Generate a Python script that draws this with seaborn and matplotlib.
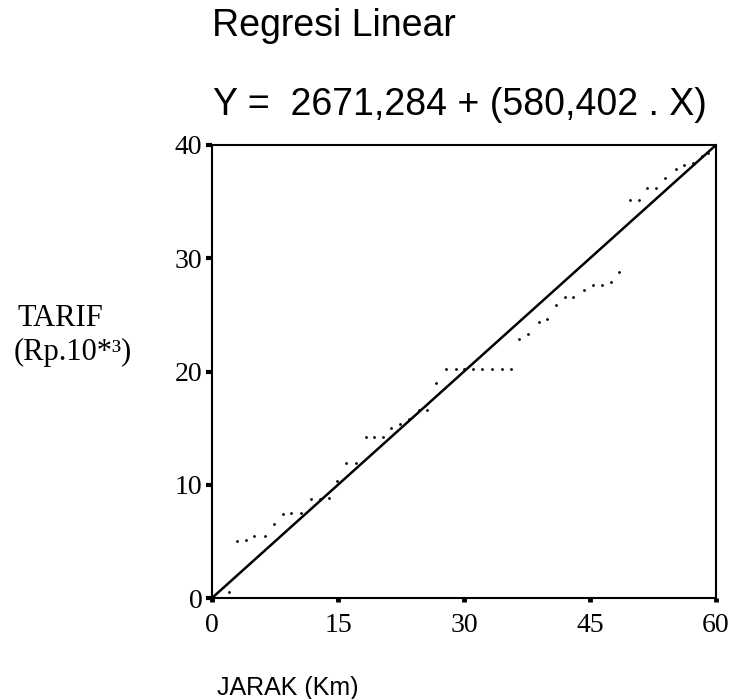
import pandas as pd
import matplotlib
matplotlib.use("Agg")
import matplotlib.pyplot as plt
import seaborn as sns

# data (JARAK in km, TARIF in Rp x 1000)
jarak = [2.0, 3.0, 4.0, 5.0, 6.3, 7.4, 8.4, 9.4, 10.6, 11.8, 12.9, 13.9, 14.9,
         16.0, 17.2, 18.3, 19.3, 20.3, 21.3, 22.4, 23.5, 24.6, 25.6, 26.7, 27.9,
         29.0, 30.0, 31.1, 32.2, 33.3, 34.5, 35.6, 36.6, 37.6, 38.9, 39.9, 40.9,
         42.0, 43.0, 44.3, 45.3, 46.4, 47.5, 48.5, 49.8, 50.8, 51.8, 52.9, 53.9,
         55.2, 56.2, 57.3, 58.3, 59.0]
tarif = [0.5, 5.0, 5.1, 5.5, 5.5, 6.5, 7.4, 7.5, 7.5, 8.7, 8.7, 8.8, 10.3,
         11.9, 11.9, 14.2, 14.2, 14.2, 15.0, 15.4, 15.8, 16.6, 16.6, 19.0, 20.2,
         20.2, 20.2, 20.2, 20.2, 20.2, 20.2, 20.2, 22.9, 23.3, 24.4, 24.6, 25.9,
         26.6, 26.6, 27.2, 27.6, 27.6, 27.9, 28.8, 35.1, 35.1, 36.2, 36.2, 37.1,
         37.9, 38.2, 38.4, 39.0, 39.3]

# regression line as drawn on the chart
line_x = [0, 60]
line_y = [0, 40]

x_ticks = [0, 15, 30, 45, 60]
y_ticks = [0, 10, 20, 30, 40]

df = pd.DataFrame({"jarak": jarak, "tarif": tarif})
df_line = pd.DataFrame({"jarak": line_x, "tarif": line_y})

sns.set_theme(style="white")
plt.rcParams["font.family"] = ["Liberation Serif", "DejaVu Serif"]
plt.rcParams["text.color"] = "black"

fig = plt.figure(figsize=(7.35, 6.99), dpi=100)
ax = fig.add_axes([212 / 735, 1 - 598 / 699, 504 / 735, 453 / 699])

sns.scatterplot(x="jarak", y="tarif", data=df, ax=ax, s=4, color="black",
                linewidth=0, zorder=3)
sns.lineplot(x="jarak", y="tarif", data=df_line, ax=ax, color="black",
             linewidth=1.8, zorder=4)

ax.set_xlim(0, 60)
ax.set_ylim(0, 40)
ax.set_xticks(x_ticks)
ax.set_yticks(y_ticks)
ax.set_xlabel("")
ax.set_ylabel("")
for sp in ax.spines.values():
    sp.set_visible(True)
    sp.set_color("black")
    sp.set_linewidth(1.5)

ax.tick_params(axis="y", direction="out", length=4, width=3, pad=3,
               labelsize=20, colors="black", left=True)
ax.tick_params(axis="x", direction="out", length=3, width=3.5, pad=8,
               labelsize=20, colors="black", bottom=True)

sans = ["Liberation Sans", "DejaVu Sans"]
fig.text(212 / 735, 1 - 36 / 699, "Regresi Linear", fontsize=27,
         family=sans, va="baseline", ha="left", color="black")
fig.text(213 / 735, 1 - 115 / 699, "Y =  2671,284 + (580,402 . X)", fontsize=27,
         family=sans, va="baseline", ha="left", color="black")
fig.text(217 / 735, 1 - 695 / 699, "JARAK (Km)", fontsize=18,
         family=sans, va="baseline", ha="left", color="black")

fig.text(17 / 735, 1 - 326 / 699, "TARIF", fontsize=22, va="baseline",
         ha="left", color="black")
fig.text(14 / 735, 1 - 360 / 699, "(Rp.10*³)", fontsize=22, va="baseline",
         ha="left", color="black")

fig.savefig("out.png", dpi=100)
